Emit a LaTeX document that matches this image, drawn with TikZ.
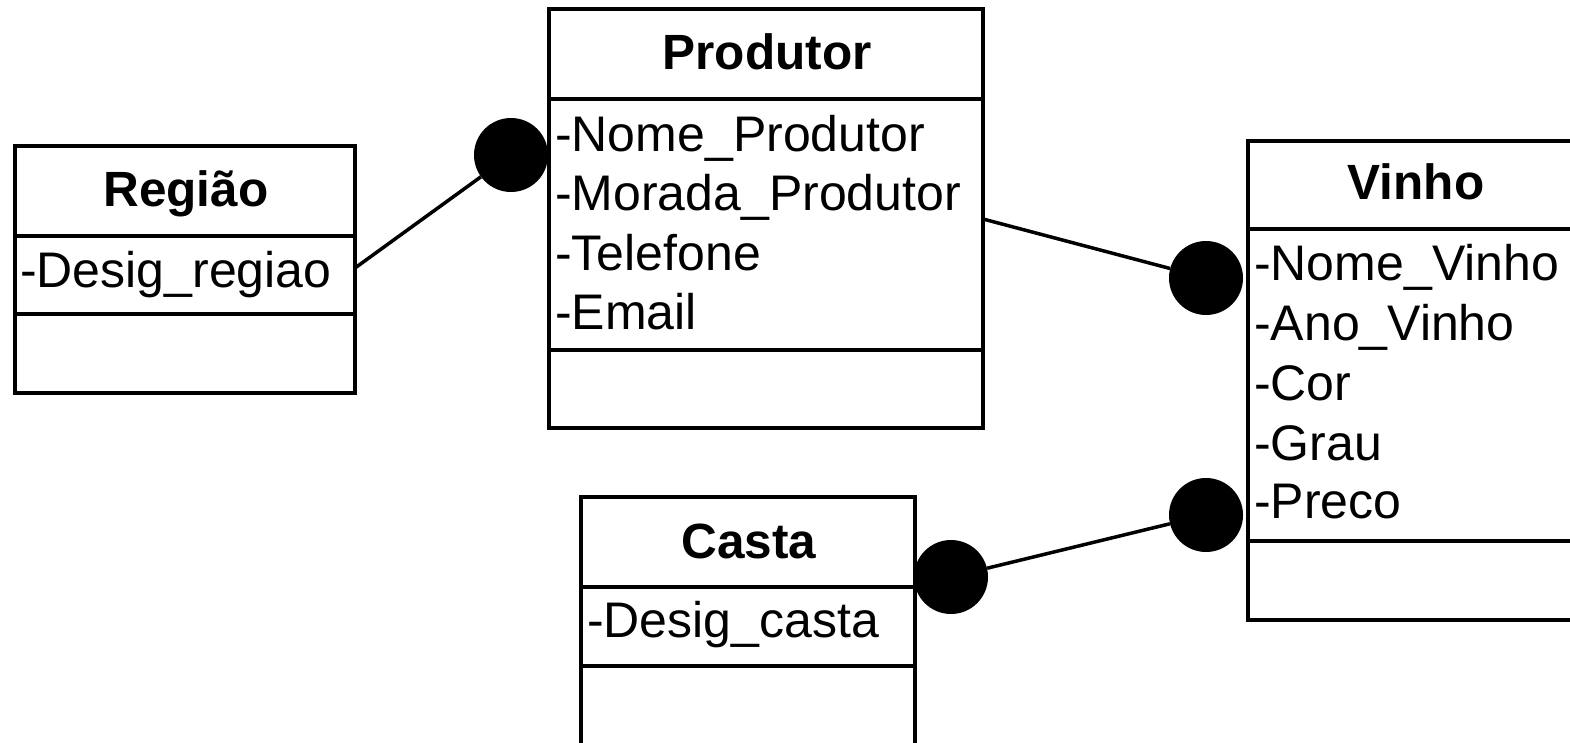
\documentclass[tikz,border=0pt]{standalone}
\usepackage{fontspec}
\setmainfont{Liberation Sans}
\begin{document}
\begin{tikzpicture}[x=1pt,y=-1pt,
  classbox/.style={draw,line width=3.5pt,inner sep=0pt,outer sep=0pt,anchor=north west},
  divider/.style={line width=3.5pt},
  title/.style={font=\fontsize{49.5pt}{59pt}\selectfont\bfseries,anchor=base,inner sep=0pt},
  attr/.style={font=\fontsize{50pt}{60pt}\selectfont,anchor=base west,inner sep=0pt},
  dot/.style={circle,fill=black,minimum size=74pt,inner sep=0pt},
  link/.style={line width=3.5pt}]
\useasboundingbox (0,0) rectangle (1570,743);
\clip (0,0) rectangle (1570,743);
% Regiao
\node[classbox,minimum width=340pt,minimum height=247pt] (regiao) at (15,146) {};
\draw[divider] (regiao.west |- 0,236) -- (regiao.east |- 0,236);
\draw[divider] (regiao.west |- 0,314) -- (regiao.east |- 0,314);
\node[title] (regiaoT) at (186,207) {Região};
\node[attr] (regiaoA) at (20,287) {-Desig\_regiao};
% Produtor
\node[classbox,minimum width=434pt,minimum height=419pt] (prod) at (549,9) {};
\draw[divider] (prod.west |- 0,99) -- (prod.east |- 0,99);
\draw[divider] (prod.west |- 0,350) -- (prod.east |- 0,350);
\node[title] (prodT) at (767,70) {Produtor};
\node[attr] (prodA1) at (555,152) {-Nome\_Produtor};
\node[attr] (prodA2) at (555,211) {-Morada\_Produtor};
\node[attr] (prodA3) at (555,270) {-Telefone};
\node[attr] (prodA4) at (555,329) {-Email};
% Vinho
\node[classbox,minimum width=338pt,minimum height=479pt] (vinho) at (1248,141) {};
\draw[divider] (vinho.west |- 0,229) -- (vinho.east |- 0,229);
\draw[divider] (vinho.west |- 0,541) -- (vinho.east |- 0,541);
\node[title] (vinhoT) at (1416,200) {Vinho};
\node[attr] (vinhoA1) at (1254,280) {-Nome\_Vinho};
\node[attr] (vinhoA2) at (1254,340) {-Ano\_Vinho};
\node[attr] (vinhoA3) at (1254,400) {-Cor};
\node[attr] (vinhoA4) at (1254,460) {-Grau};
\node[attr] (vinhoA5) at (1254,518) {-Preco};
% Casta
\node[classbox,minimum width=334pt,minimum height=270pt] (casta) at (581,497) {};
\draw[divider] (casta.west |- 0,587) -- (casta.east |- 0,587);
\draw[divider] (casta.west |- 0,666) -- (casta.east |- 0,666);
\node[title] (castaT) at (749,558) {Casta};
\node[attr] (castaA) at (587,637) {-Desig\_casta};
% connectors
\node[dot] (d1) at (511,155) {};
\node[dot] (d2) at (1206,278) {};
\node[dot] (d3) at (951,577) {};
\node[dot] (d4) at (1206,515) {};
\draw[link] (regiao.east |- 0,268) -- (d1);
\draw[link] (prod.east |- 0,219) -- (d2);
\draw[link] (d3) -- (d4);
\end{tikzpicture}
\end{document}
